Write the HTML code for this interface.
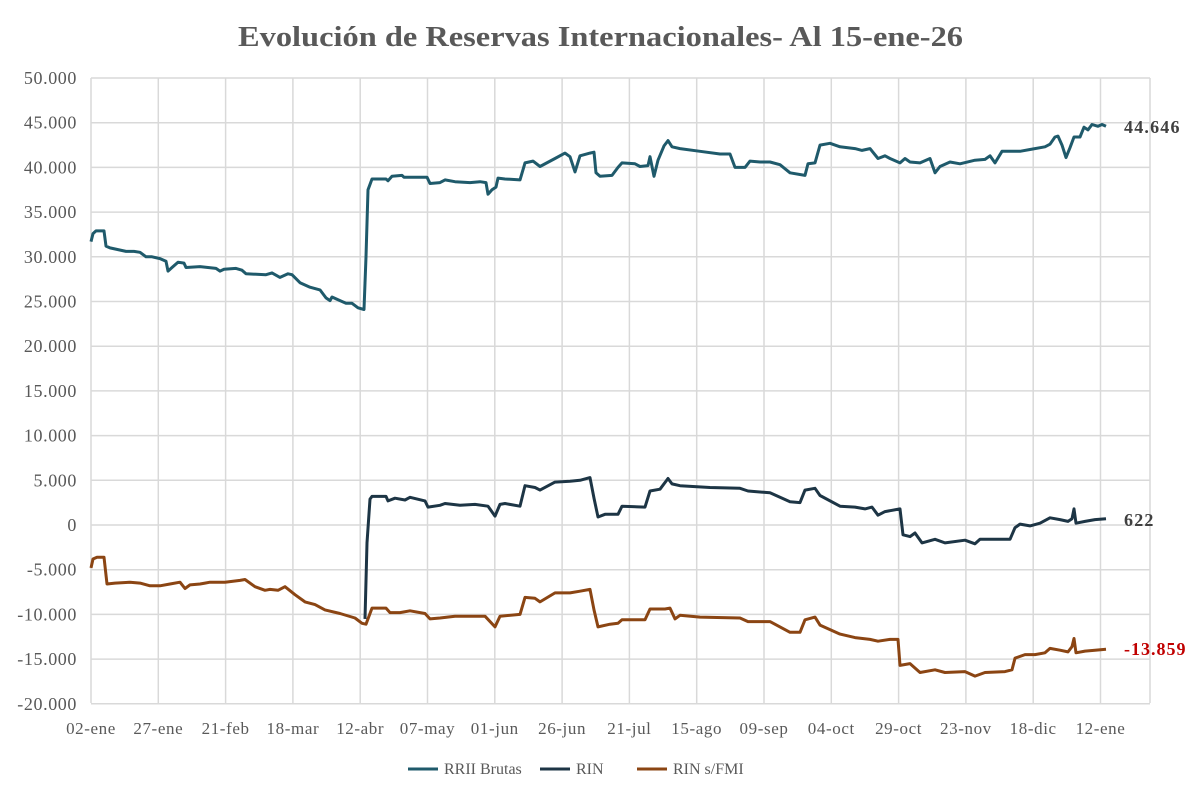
<!DOCTYPE html>
<html><head><meta charset="utf-8"><style>
body{margin:0;background:#fff;}
svg{display:block;font-family:"Liberation Serif",serif;}
</style></head><body>
<svg id="s" width="1202" height="800" xmlns="http://www.w3.org/2000/svg">
<rect x="0" y="0" width="1202" height="800" fill="#fff"/>
<text x="238" y="46" textLength="725" lengthAdjust="spacingAndGlyphs" font-size="29" font-weight="bold" fill="#595959">Evolución de Reservas Internacionales- Al 15-ene-26</text>
<g id="grid" stroke="#d9d9d9" stroke-width="1.5"></g>
<g id="ylab" font-size="18" fill="#595959" text-anchor="end" letter-spacing="0.6"></g>
<g id="xlab" font-size="17" fill="#595959" text-anchor="middle" letter-spacing="0.6"></g>
<g id="lines" fill="none" stroke-width="3" stroke-linejoin="round"></g>
<text x="1124" y="133" font-size="18" font-weight="bold" fill="#404040" letter-spacing="1.2">44.646</text>
<text x="1124" y="526" font-size="18" font-weight="bold" fill="#404040" letter-spacing="1.2">622</text>
<text x="1124" y="655" font-size="18" font-weight="bold" fill="#c00000" letter-spacing="1">-13.859</text>
<g font-size="16" fill="#595959">
<line x1="408" y1="769" x2="438" y2="769" stroke="#1f5a6b" stroke-width="3"/><text x="444" y="774">RRII Brutas</text>
<line x1="540" y1="769" x2="570" y2="769" stroke="#1d3545" stroke-width="3"/><text x="576" y="774">RIN</text>
<line x1="637" y1="769" x2="667" y2="769" stroke="#8b4513" stroke-width="3"/><text x="673" y="774">RIN s/FMI</text>
</g>
</svg>
<script>
const ns="http://www.w3.org/2000/svg";
const Y=v=>525-v*8.94;
const g=document.getElementById('grid'),yl=document.getElementById('ylab'),xl=document.getElementById('xlab'),L=document.getElementById('lines');
function el(p,t,a,txt){const e=document.createElementNS(ns,t);for(const k in a)e.setAttribute(k,a[k]);if(txt)e.textContent=txt;p.appendChild(e);}
for(let v=50;v>=-20;v-=5){const y=Y(v);el(g,'line',{x1:91,x2:1150,y1:y,y2:y});
el(yl,'text',{x:77,y:y+6},(v<0?'-':'')+(Math.abs(v)===0?'0':Math.abs(v)+'.000'));}
const labs=['02-ene','27-ene','21-feb','18-mar','12-abr','07-may','01-jun','26-jun','21-jul','15-ago','09-sep','04-oct','29-oct','23-nov','18-dic','12-ene'];
labs.forEach((l,i)=>{const x=91+i*67.3;el(g,'line',{x1:x,x2:x,y1:78,y2:703});el(xl,'text',{x:x,y:734},l);});
el(g,'line',{x1:1150,x2:1150,y1:78,y2:703});
const r=[91,31.7,93,32.6,96,32.9,104,32.9,106,31.2,110,31,118,30.8,126,30.6,134,30.6,140,30.5,146,30,152,30,160,29.8,166,29.5,168,28.4,172,28.8,178,29.4,184,29.3,186,28.8,200,28.9,216,28.7,220,28.4,224,28.6,236,28.7,242,28.5,246,28.1,266,28,272,28.2,280,27.7,288,28.1,292,28,300,27.1,310,26.6,320,26.3,326,25.4,330,25.1,332,25.5,340,25.1,346,24.8,352,24.8,358,24.3,364,24.1,366,30,368,37.5,372,38.7,386,38.7,388,38.5,392,39,402,39.1,404,38.9,427,38.9,430,38.2,440,38.3,445,38.6,455,38.4,470,38.3,480,38.4,486,38.3,488,37.0,492,37.5,496,37.8,498,38.8,505,38.7,520,38.6,525,40.5,533,40.7,540,40.1,555,41.0,565,41.6,570,41.2,575,39.5,580,41.3,590,41.6,594,41.7,596,39.4,600,39.0,612,39.1,618,40.0,622,40.5,635,40.4,640,40.1,648,40.2,650,41.2,654,39.0,658,40.8,664,42.4,668,43.0,672,42.3,680,42.1,700,41.8,720,41.5,730,41.5,735,40.0,745,40.0,750,40.7,760,40.6,770,40.6,780,40.3,790,39.4,805,39.1,808,40.4,815,40.5,820,42.5,830,42.7,840,42.3,855,42.1,862,41.9,870,42.1,878,41.0,885,41.3,890,41.0,900,40.5,905,41.0,910,40.6,920,40.5,930,41.0,935,39.4,940,40.1,950,40.6,960,40.4,975,40.8,985,40.9,990,41.3,995,40.5,1002,41.8,1020,41.8,1030,42.0,1045,42.3,1050,42.6,1055,43.4,1058,43.5,1062,42.5,1066,41.1,1070,42.2,1074,43.4,1080,43.4,1084,44.5,1088,44.2,1092,44.8,1098,44.6,1102,44.8,1106,44.6];
const n=[365,-10.5,367,-2,370,2.9,372,3.2,386,3.2,388,2.7,395,3.0,405,2.8,410,3.1,425,2.7,428,2.0,440,2.2,445,2.4,460,2.2,475,2.3,488,2.1,495,1.0,500,2.3,505,2.4,520,2.1,525,4.4,535,4.2,540,3.9,555,4.8,570,4.9,580,5.0,590,5.3,594,3.0,598,0.9,605,1.2,618,1.2,622,2.1,645,2.0,650,3.8,660,4.0,668,5.2,672,4.6,680,4.4,710,4.2,740,4.1,748,3.8,770,3.6,790,2.6,800,2.5,805,3.9,815,4.1,820,3.3,840,2.1,855,2.0,865,1.8,872,2.0,878,1.1,885,1.5,900,1.8,903,-1.1,910,-1.3,915,-0.9,922,-2.0,935,-1.6,945,-2.0,965,-1.7,975,-2.1,980,-1.6,995,-1.6,1010,-1.6,1015,-0.3,1020,0.1,1030,-0.1,1040,0.2,1050,0.8,1060,0.6,1068,0.4,1072,0.7,1074,1.8,1076,0.2,1085,0.4,1095,0.6,1106,0.7];
const f=[91,-4.8,93,-3.8,97,-3.6,104,-3.6,107,-6.6,115,-6.5,130,-6.4,140,-6.5,150,-6.8,160,-6.8,170,-6.6,180,-6.4,185,-7.1,190,-6.7,200,-6.6,205,-6.5,210,-6.4,225,-6.4,240,-6.2,245,-6.1,255,-6.9,265,-7.3,270,-7.2,278,-7.3,285,-6.9,295,-7.8,305,-8.6,315,-8.9,325,-9.5,340,-9.9,355,-10.4,362,-11.0,366,-11.1,372,-9.3,386,-9.3,390,-9.8,400,-9.8,410,-9.6,425,-9.9,430,-10.5,440,-10.4,455,-10.2,470,-10.2,485,-10.2,495,-11.4,500,-10.2,520,-10.0,525,-8.1,535,-8.2,540,-8.6,555,-7.6,570,-7.6,580,-7.4,590,-7.2,594,-9.5,598,-11.4,610,-11.1,618,-11.0,622,-10.6,645,-10.6,650,-9.4,665,-9.4,670,-9.3,675,-10.5,680,-10.1,700,-10.3,740,-10.4,748,-10.8,770,-10.8,790,-12.0,800,-12.0,805,-10.6,815,-10.3,820,-11.2,840,-12.2,855,-12.6,870,-12.8,878,-13.0,890,-12.8,898,-12.8,900,-15.7,910,-15.5,920,-16.5,935,-16.2,945,-16.5,965,-16.4,975,-16.9,985,-16.5,1005,-16.4,1012,-16.2,1015,-14.9,1025,-14.5,1035,-14.5,1045,-14.3,1050,-13.8,1060,-14.0,1068,-14.2,1072,-13.6,1074,-12.7,1076,-14.3,1085,-14.1,1095,-14.0,1106,-13.9];
function pl(a,c){let p=[];for(let i=0;i<a.length;i+=2)p.push(a[i]+','+Y(a[i+1]).toFixed(1));el(L,'polyline',{points:p.join(' '),stroke:c});}
pl(r,'#1f5a6b');pl(n,'#1d3545');pl(f,'#8b4513');
</script>
</body></html>
